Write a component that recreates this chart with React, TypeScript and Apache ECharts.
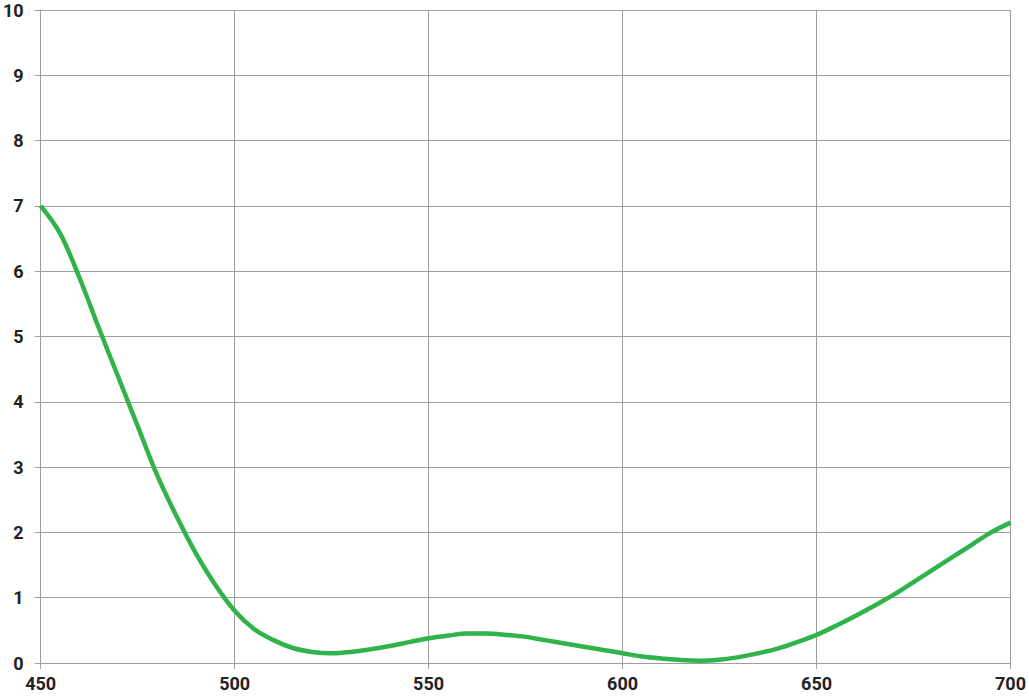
import React, { useEffect, useRef } from "react";
import * as echarts from "echarts";

const wavelengths: number[] = [
  450, 455, 460, 465, 470, 475, 480, 485, 490, 495, 500, 505, 510, 515, 520, 525, 530,
  535, 540, 545, 550, 555, 560, 565, 570, 575, 580, 585, 590, 595, 600, 605, 610, 615,
  620, 625, 630, 635, 640, 645, 650, 655, 660, 665, 670, 675, 680, 685, 690, 695, 700,
];
const values: number[] = [
  7.0, 6.58, 5.9, 5.13, 4.38, 3.63, 2.88, 2.25, 1.68, 1.2, 0.8, 0.52, 0.35, 0.23, 0.17,
  0.15, 0.17, 0.21, 0.26, 0.32, 0.38, 0.42, 0.45, 0.45, 0.43, 0.4, 0.35, 0.3, 0.25, 0.2,
  0.15, 0.1, 0.07, 0.045, 0.035, 0.05, 0.09, 0.15, 0.22, 0.32, 0.43, 0.57, 0.72, 0.88,
  1.05, 1.24, 1.43, 1.62, 1.81, 2.0, 2.15,
];
const xTicks = { min: 450, max: 700, interval: 50 };
const yTicks = { min: 0, max: 10, interval: 1 };

export default function App() {
  const ref = useRef<HTMLDivElement>(null);
  useEffect(() => {
    if (!ref.current) return;
    const chart = echarts.init(ref.current, null, { renderer: "svg" });
    const gridColor = "#9e9e9e";
    const labelStyle = {
      color: "#222222",
      fontWeight: "bold" as const,
      fontFamily: "Roboto, 'DejaVu Sans', sans-serif",
      fontSize: 18,
    };
    chart.setOption({
      animation: false,
      backgroundColor: "#ffffff",
      grid: { left: 39, right: 16, top: 10, bottom: 36, containLabel: false },
      xAxis: {
        type: "value",
        min: xTicks.min,
        max: xTicks.max,
        interval: xTicks.interval,
        axisLine: { show: true, lineStyle: { color: gridColor, width: 1 } },
        axisTick: { show: true, length: 6, lineStyle: { color: gridColor } },
        axisLabel: { ...labelStyle, margin: 11 },
        splitLine: { show: true, lineStyle: { color: gridColor, width: 1 } },
      },
      yAxis: {
        type: "value",
        min: yTicks.min,
        max: yTicks.max,
        interval: yTicks.interval,
        axisLine: { show: true, lineStyle: { color: gridColor, width: 1 } },
        axisTick: { show: true, length: 6, lineStyle: { color: gridColor } },
        axisLabel: { ...labelStyle, margin: 17 },
        splitLine: { show: true, lineStyle: { color: gridColor, width: 1 } },
      },
      series: [
        {
          type: "line",
          data: wavelengths.map((w, i) => [w, values[i]]),
          smooth: 0.35,
          showSymbol: false,
          lineStyle: { color: "#2fb34a", width: 4.5 },
        },
      ],
    });
    return () => chart.dispose();
  }, []);
  return (
    <div
      ref={ref}
      style={{ position: "fixed", left: 0, top: 0, width: 1029, height: 699 }}
    />
  );
}
